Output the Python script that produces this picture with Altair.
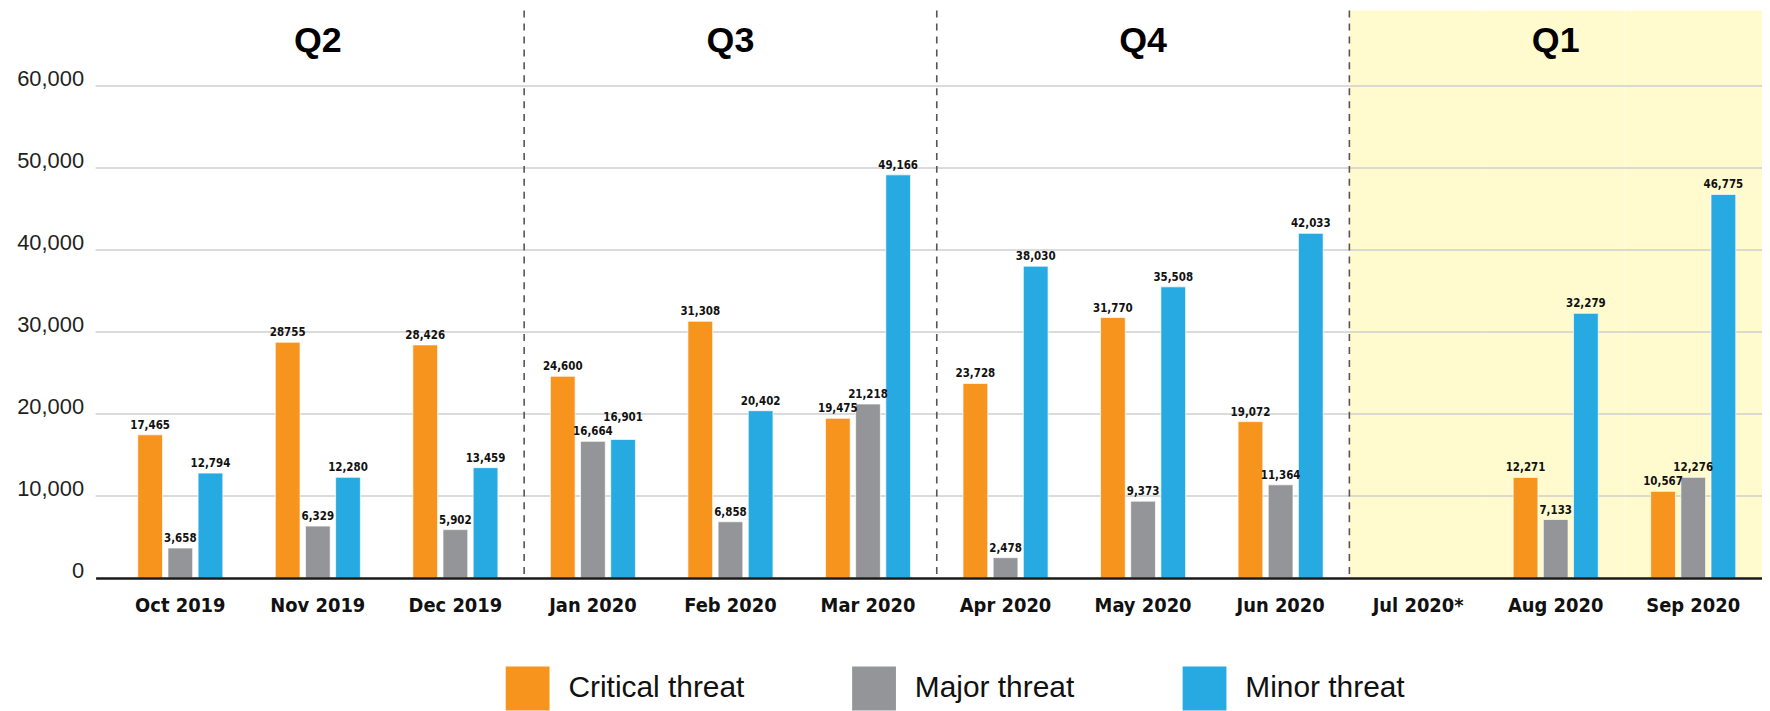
import altair as alt
import pandas as pd

# ---------------- data ----------------
months = ["Oct 2019", "Nov 2019", "Dec 2019", "Jan 2020", "Feb 2020", "Mar 2020",
          "Apr 2020", "May 2020", "Jun 2020", "Jul 2020*", "Aug 2020", "Sep 2020"]
series = ["Critical threat", "Major threat", "Minor threat"]

critical = [17465, 28755, 28426, 24600, 31308, 19475, 23728, 31770, 19072, None, 12271, 10567]
major = [3658, 6329, 5902, 16664, 6858, 21218, 2478, 9373, 11364, None, 7133, 12276]
minor = [12794, 12280, 13459, 16901, 20402, 49166, 38030, 35508, 42033, None, 32279, 46775]

critical_labels = ["17,465", "28755", "28,426", "24,600", "31,308", "19,475", "23,728",
                   "31,770", "19,072", None, "12,271", "10,567"]

# value labels that sit higher in the original to avoid a neighbour
raised_label_month = ["Jan 2020"]
raised_label_series = ["Minor threat"]

quarters = ["Q2", "Q3", "Q4", "Q1"]
quarter_mid = ["Nov 2019", "Feb 2020", "May 2020", "Aug 2020"]
quarter_start = ["Jan 2020", "Apr 2020", "Jul 2020*"]
highlight_months = ["Jul 2020*", "Aug 2020", "Sep 2020"]
y_ticks = [0, 10000, 20000, 30000, 40000, 50000, 60000]

colors = ["#F7941D", "#939598", "#27AAE1"]

# ---------------- tables ----------------
raised = set(zip(raised_label_month, raised_label_series))
rows = []
for i, m in enumerate(months):
    for s, vals in zip(series, [critical, major, minor]):
        v = vals[i]
        if v is None:
            continue
        if s == "Critical threat":
            lab = critical_labels[i]
        else:
            lab = f"{v:,}"
        rows.append({"month": m, "series": s, "value": v, "label": lab,
                     "raised": (m, s) in raised})
df = pd.DataFrame(rows)

q_df = pd.DataFrame({"month": quarter_mid, "q": quarters})
div_df = pd.DataFrame({"month": quarter_start})
hl_df = pd.DataFrame({"month": highlight_months})
grid_df = pd.DataFrame({"v": y_ticks[1:]})

# ---------------- layout ----------------
W, H = 1674, 570
step_guess = 138.17
pad_outer = 8 / step_guess

NARROW = "Liberation Sans Narrow, Arial Narrow, DejaVu Sans Condensed, sans-serif"
SANS = "Liberation Sans, Arial, Helvetica, sans-serif"

x_scale = alt.Scale(domain=months, paddingInner=0, paddingOuter=pad_outer, align=1)
y_scale = alt.Scale(domain=[0, 69200], nice=False, zero=True)

x_axis = alt.Axis(title=None, labelFont=NARROW, labelFontWeight="bold", labelFontSize=20,
                  labelColor="#111111", labelPadding=18, ticks=False, domain=True,
                  domainColor="#1a1a1a", domainWidth=2.5, grid=False, labelAngle=0)
y_axis = alt.Axis(title=None, values=y_ticks, format=",.0f", labelFont=SANS, labelFontSize=22,
                  labelColor="#231f20", labelPadding=12, labelBaseline="middle",
                  labelOffset=-8, ticks=False, domain=False, grid=False)

base_x = alt.X("month:N", scale=x_scale, axis=x_axis, sort=months)

highlight = alt.Chart(hl_df).mark_rect(color="#FFFBCF").encode(
    x=alt.X("month:N", scale=x_scale, sort=months, axis=x_axis),
    y=alt.value(0),
    y2=alt.value(H),
)

grid = alt.Chart(grid_df).mark_rule(color="#cfcfcf", strokeWidth=1.6).encode(
    y=alt.Y("v:Q", scale=y_scale, axis=y_axis)
)

dividers = alt.Chart(div_df).mark_rule(color="#555555", strokeWidth=1.6,
                                       strokeDash=[7, 6]).encode(
    x=alt.X("month:N", scale=x_scale, sort=months, bandPosition=0, axis=x_axis)
)

xoff = alt.XOffset("series:N", sort=series,
                   scale=alt.Scale(domain=series, paddingInner=0.18, paddingOuter=0.87))

bars = alt.Chart(df).mark_bar(stroke="#ffffff", strokeWidth=1, strokeOpacity=0.7).encode(
    x=base_x,
    xOffset=xoff,
    y=alt.Y("value:Q", scale=y_scale, axis=y_axis),
    color=alt.Color("series:N", sort=series,
                    scale=alt.Scale(domain=series, range=colors),
                    legend=alt.Legend(title=None, orient="none", legendX=412, legendY=659,
                                      direction="horizontal", symbolType="square",
                                      symbolSize=1936, symbolStrokeWidth=0,
                                      labelFont=SANS, labelFontSize=30,
                                      labelColor="#111111", labelOffset=19,
                                      columnPadding=108, labelLimit=400)),
)

label_enc = dict(
    x=base_x,
    xOffset=xoff,
    y=alt.Y("value:Q", scale=y_scale, axis=y_axis),
    text="label:N",
)
label_style = dict(font=NARROW, fontWeight="bold", fontSize=11.5,
                   baseline="bottom", color="#111111")

labels = alt.Chart(df).transform_filter("!datum.raised").mark_text(
    dy=-4, **label_style).encode(**label_enc)
labels_raised = alt.Chart(df).transform_filter("datum.raised").mark_text(
    dy=-17, **label_style).encode(**label_enc)

qtext = alt.Chart(q_df).mark_text(font=SANS, fontWeight="bold", fontSize=36,
                                  baseline="alphabetic", color="#000000").encode(
    x=alt.X("month:N", scale=x_scale, sort=months, axis=x_axis),
    y=alt.value(42),
    text="q:N",
)

chart = alt.layer(highlight, grid, dividers, bars, labels, labels_raised, qtext).properties(
    width=W, height=H,
    background="#ffffff",
    autosize=alt.AutoSizeParams(type="none"),
    padding={"left": 88, "top": 1, "right": 0, "bottom": 132},
).configure_view(stroke=None)

chart.save("out.html", embed_options={"renderer": "svg", "actions": False})
